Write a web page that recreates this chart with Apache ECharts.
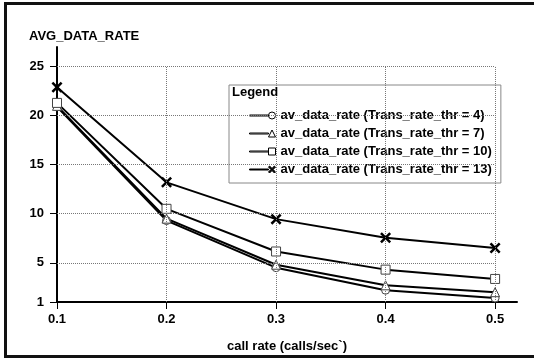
<!DOCTYPE html>
<html>
<head>
<meta charset="utf-8">
<script src="https://cdn.jsdelivr.net/npm/echarts@6/dist/echarts.min.js"></script>
<style>
  html, body { margin: 0; padding: 0; background: #fff; }
  #wrap { position: relative; width: 534px; height: 358px; }
  #chart { width: 534px; height: 358px; }
  #frame {
    position: absolute; left: 4px; top: 2px; width: 540px; height: 350px;
    border: 3px solid #111; border-right: none; pointer-events: none;
  }
</style>
</head>
<body>
<div id="wrap">
  <div id="chart"></div>
  <div id="frame"></div>
</div>
<script>
// call rate (calls/sec)
const callRate = [0.1, 0.2, 0.3, 0.4, 0.5]
const rateThr4 = [20.9, 9.3, 4.5, 2.2, 1.4]
const rateThr7 = [21.0, 9.5, 4.8, 2.7, 2.0]
const rateThr10 = [21.3, 10.5, 6.15, 4.3, 3.35]
const rateThr13 = [22.9, 13.2, 9.45, 7.55, 6.5]
const xTicks = [0.1, 0.2, 0.3, 0.4, 0.5]
const yTicks = [1, 5, 10, 15, 20, 25]
const xGrid = [0.2, 0.3, 0.4, 0.5]
const yGrid = [5, 10, 15, 20, 25]

const FONT = "'Liberation Sans', Arial, Helvetica, sans-serif"
// bold cross marker
const X_PATH = 'path://M0,1.6L1.6,0L5,3.4L8.4,0L10,1.6L6.6,5L10,8.4L8.4,10L5,6.6L1.6,10L0,8.4L3.4,5Z'
const LINE_PART = 'M0,3L19,3L19,4L0,4Z '
const legendIcons = {
  circle: 'path://' + LINE_PART + 'M26,3.5A3.5,3.5,0,1,1,19,3.5A3.5,3.5,0,1,1,26,3.5Z',
  triangle: 'path://' + LINE_PART + 'M22.5,0L26,7L19,7Z',
  rect: 'path://' + LINE_PART + 'M19,0L26,0L26,7L19,7Z',
  cross: 'path://' + LINE_PART + 'M19,1.1L20.1,0L22.5,2.4L24.9,0L26,1.1L23.6,3.5L26,5.9L24.9,7L22.5,4.6L20.1,7L19,5.9L21.4,3.5Z'
}

function pairs(xs, ys) {
  return xs.map((x, i) => [x, ys[i]])
}

function gridLines() {
  const lines = []
  xGrid.forEach(x => lines.push([{ coord: [x, yTicks[0]] }, { coord: [x, yGrid[yGrid.length - 1]] }]))
  yGrid.forEach(y => lines.push([{ coord: [xTicks[0], y] }, { coord: [xTicks[xTicks.length - 1], y] }]))
  return lines
}

function makeSeries(name, values, symbol, size, hollow) {
  return {
    name: name,
    type: 'line',
    data: pairs(callRate, values),
    symbol: symbol,
    symbolSize: size,
    showAllSymbol: true,
    z: 3,
    lineStyle: { color: '#000', width: 2 },
    itemStyle: hollow
      ? { color: '#fff', borderColor: '#444', borderWidth: 1 }
      : { color: '#000', borderWidth: 0 }
  }
}

const names = [
  'av_data_rate (Trans_rate_thr = 4)',
  'av_data_rate (Trans_rate_thr = 7)',
  'av_data_rate (Trans_rate_thr = 10)',
  'av_data_rate (Trans_rate_thr = 13)'
]

const chart = echarts.init(document.getElementById('chart'))
chart.setOption({
  animation: false,
  backgroundColor: '#fff',
  textStyle: { fontFamily: FONT },
  title: [
    {
      text: 'AVG_DATA_RATE',
      left: 29,
      top: 30,
      padding: 0,
      textStyle: { fontFamily: FONT, fontSize: 13, fontWeight: 'bold', color: '#000' }
    },
    {
      text: 'Legend',
      left: 232,
      top: 86,
      padding: 0,
      z: 10,
      textStyle: { fontFamily: FONT, fontSize: 13, fontWeight: 'bold', color: '#000' }
    }
  ],
  legend: {
    orient: 'vertical',
    left: 229,
    top: 85,
    padding: [24, 9, 7, 20],
    itemWidth: 26,
    itemHeight: 7,
    itemGap: 5,
    symbolKeepAspect: false,
    backgroundColor: '#fff',
    borderColor: '#888',
    borderWidth: 1,
    selectedMode: false,
    textStyle: { fontFamily: FONT, fontSize: 13, fontWeight: 'bold', color: '#000' },
    data: [
      { name: names[0], icon: legendIcons.circle, itemStyle: { color: '#fff', borderColor: '#000', borderWidth: 1 } },
      { name: names[1], icon: legendIcons.triangle, itemStyle: { color: '#fff', borderColor: '#000', borderWidth: 1 } },
      { name: names[2], icon: legendIcons.rect, itemStyle: { color: '#fff', borderColor: '#000', borderWidth: 1 } },
      { name: names[3], icon: legendIcons.cross, itemStyle: { color: '#000', borderColor: '#000', borderWidth: 1 } }
    ]
  },
  grid: { left: 57, right: 17, top: 47, bottom: 55, containLabel: false },
  xAxis: {
    type: 'value',
    min: 0.1,
    max: 0.52,
    name: 'call rate (calls/sec`)',
    nameLocation: 'middle',
    nameGap: 38,
    nameTextStyle: { fontFamily: FONT, fontSize: 13, fontWeight: 'bold', color: '#000' },
    axisLine: { lineStyle: { color: '#000', width: 2 } },
    axisTick: { show: true, length: 7, customValues: xTicks, lineStyle: { color: '#000', width: 1 } },
    axisLabel: {
      customValues: xTicks,
      margin: 11,
      fontFamily: FONT,
      fontSize: 13,
      fontWeight: 'bold',
      color: '#000',
      formatter: v => v.toFixed(1)
    },
    splitLine: { show: false }
  },
  yAxis: {
    type: 'value',
    min: 1,
    max: 27,
    axisLine: { show: true, lineStyle: { color: '#000', width: 2 } },
    axisTick: { show: true, length: 7, customValues: yTicks, lineStyle: { color: '#000', width: 1 } },
    axisLabel: {
      customValues: yTicks,
      margin: 13,
      fontFamily: FONT,
      fontSize: 13,
      fontWeight: 'bold',
      color: '#000'
    },
    splitLine: { show: false }
  },
  series: [
    {
      name: 'grid',
      type: 'line',
      data: [],
      z: 1,
      silent: true,
      markLine: {
        silent: true,
        symbol: ['none', 'none'],
        label: { show: false },
        lineStyle: { color: '#777', width: 1, type: 'dotted' },
        data: gridLines()
      }
    },
    makeSeries(names[0], rateThr4, 'circle', 8, true),
    makeSeries(names[1], rateThr7, 'triangle', 9, true),
    makeSeries(names[2], rateThr10, 'rect', 9, true),
    makeSeries(names[3], rateThr13, X_PATH, 11, false)
  ]
})
</script>
</body>
</html>
